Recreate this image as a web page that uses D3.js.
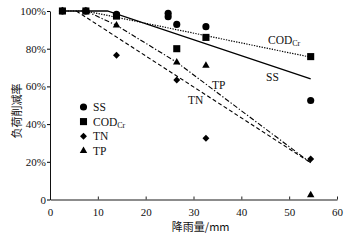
<!DOCTYPE html>
<html><head><meta charset="utf-8">
<script src="https://cdn.jsdelivr.net/npm/d3@7"></script>
<style>body{margin:0;background:#fff}svg{display:block}</style>
</head><body>
<svg id="c" width="351" height="240"></svg>
<script>
// ---- data ----
const xTicks = [0, 10, 20, 30, 40, 50, 60];
const yTicks = [0, 20, 40, 60, 80, 100];
const yTickLabels = ["0", "20%", "40%", "60%", "80%", "100%"];

const ssX = [2.6, 7.5, 13.9, 24.7, 24.7, 26.5, 32.6, 54.5];
const ssY = [100, 100, 98.2, 98.8, 97.0, 92.9, 91.7, 52.5];
const codX = [2.6, 7.5, 13.9, 26.5, 32.6, 54.5];
const codY = [100, 100, 97.3, 80.0, 86.0, 75.8];
const tnX = [2.6, 7.5, 13.9, 26.5, 32.6, 54.5];
const tnY = [100, 100, 76.5, 63.4, 32.5, 21.5];
const tpX = [2.6, 7.5, 13.9, 26.5, 32.6, 54.5];
const tpY = [100, 100, 92.4, 72.8, 71.0, 2.4];

const ssFitX = [2.6, 12, 54.5];
const ssFitY = [100, 100, 64];
const codFitX = [2.6, 7.5, 54.5];
const codFitY = [100, 100, 75.5];
const tnFitX = [5.5, 54.5];
const tnFitY = [100, 19.5];
const tpFitX = [7.5, 13.9, 26.5, 54.5];
const tpFitY = [100, 92.4, 72.8, 19.5];

// ---- chart ----
const svg = d3.select("#c");
const x = d3.scaleLinear().domain([0, 60]).range([50, 337]);
const y = d3.scaleLinear().domain([0, 100]).range([199.5, 11]);
const serif = "'Liberation Serif','Times New Roman',serif";
const cjk = "'Noto Sans CJK SC','Noto Sans CJK JP',sans-serif";

// x axis (ticks inward)
const xa = svg.append("g").attr("transform", `translate(0,${y(0)})`)
  .call(d3.axisBottom(x).tickValues(xTicks).tickSizeInner(-3).tickSizeOuter(0).tickPadding(9));
xa.select(".domain").attr("stroke", "#666").attr("stroke-width", 1.6);
xa.selectAll(".tick line").attr("stroke", "#222");
xa.selectAll("text").attr("font-family", serif).attr("font-size", 11).attr("fill", "#111");

// y axis (ticks outward)
const ya = svg.append("g").attr("transform", `translate(${x(0)},0)`)
  .call(d3.axisLeft(y).tickValues(yTicks).tickFormat((d, i) => yTickLabels[i]).tickSizeInner(3).tickSizeOuter(0).tickPadding(1));
ya.select(".domain").attr("stroke", "#111").attr("stroke-width", 1);
ya.selectAll("text").attr("font-family", serif).attr("font-size", 11).attr("fill", "#111");

// titles
svg.append("text").attr("x", x(31.5)).attr("y", 231).attr("text-anchor", "middle")
  .attr("font-family", cjk).attr("font-size", 11).attr("fill", "#111").text("降雨量/mm");
svg.append("text").attr("transform", `translate(21,${y(47)}) rotate(-90)`).attr("text-anchor", "middle")
  .attr("font-family", cjk).attr("font-size", 11).attr("fill", "#111").text("负荷削减率");

// fit lines
const line = d3.line().x(d => x(d[0])).y(d => y(d[1]));
const zip = (a, b) => a.map((v, i) => [v, b[i]]);
svg.append("path").attr("d", line(zip(ssFitX, ssFitY))).attr("fill", "none").attr("stroke", "#000").attr("stroke-width", 1.3);
svg.append("path").attr("d", line(zip(codFitX, codFitY))).attr("fill", "none").attr("stroke", "#000").attr("stroke-width", 1.2).attr("stroke-dasharray", "1.3,1.3");
svg.append("path").attr("d", line(zip(tnFitX, tnFitY))).attr("fill", "none").attr("stroke", "#000").attr("stroke-width", 1.1).attr("stroke-dasharray", "4,2.5");
svg.append("path").attr("d", line(zip(tpFitX, tpFitY))).attr("fill", "none").attr("stroke", "#000").attr("stroke-width", 1.1).attr("stroke-dasharray", "5,2,1.3,2");

// markers
const sym = {
  circle: { g: d3.symbol().type(d3.symbolCircle).size(40), r: 0 },
  square: { g: d3.symbol().type(d3.symbolSquare).size(50), r: 0 },
  diamond: { g: d3.symbol().type(d3.symbolSquare).size(24), r: 45 },
  triangle: { g: d3.symbol().type(d3.symbolTriangle).size(24), r: 0 }
};
function drawPts(xs, ys, s) {
  svg.append("g").selectAll("path").data(zip(xs, ys)).join("path")
    .attr("d", sym[s].g()).attr("transform", d => `translate(${x(d[0])},${y(d[1])}) rotate(${sym[s].r})`).attr("fill", "#000");
}
drawPts(tnX, tnY, "diamond");
drawPts(tpX, tpY, "triangle");
drawPts(ssX, ssY, "circle");
drawPts(codX, codY, "square");

// legend
const legend = [["SS", "circle"], ["COD", "square"], ["TN", "diamond"], ["TP", "triangle"]];
legend.forEach((l, i) => {
  const cy = 107 + i * 14.6;
  svg.append("path").attr("d", sym[l[1]].g()).attr("transform", `translate(83.5,${cy}) rotate(${sym[l[1]].r})`).attr("fill", "#000");
  const t = svg.append("text").attr("x", 93).attr("y", cy + 4).attr("font-family", serif).attr("font-size", 11.5).attr("fill", "#111");
  t.append("tspan").text(l[0]);
  if (l[0] === "COD") t.append("tspan").attr("font-size", 8).attr("dy", 2).text("Cr");
});

// line labels
const cod = svg.append("text").attr("x", 268).attr("y", 44).attr("font-family", serif).attr("font-size", 11.5).attr("fill", "#111");
cod.append("tspan").text("COD");
cod.append("tspan").attr("font-size", 8).attr("dy", 2).text("Cr");
svg.append("text").attr("x", 266).attr("y", 81).attr("font-family", serif).attr("font-size", 11.5).attr("fill", "#111").text("SS");
svg.append("text").attr("x", 212).attr("y", 89).attr("font-family", serif).attr("font-size", 11.5).attr("fill", "#111").text("TP");
svg.append("text").attr("x", 188).attr("y", 104).attr("font-family", serif).attr("font-size", 11.5).attr("fill", "#111").text("TN");
</script>
</body></html>
